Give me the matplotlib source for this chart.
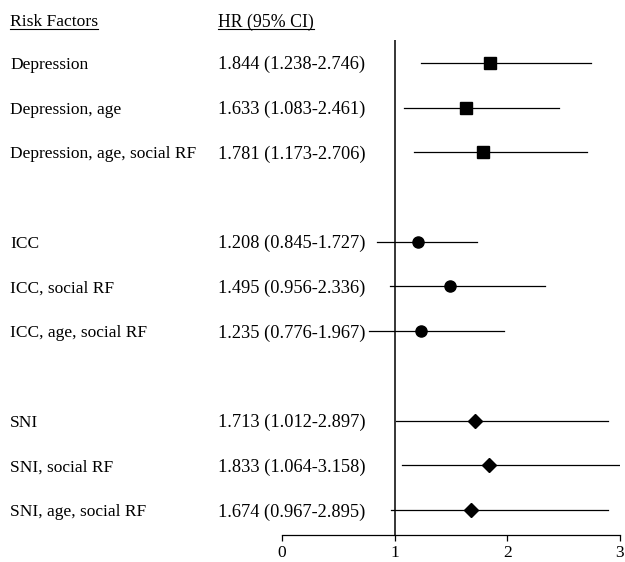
import matplotlib
matplotlib.use("Agg")
import matplotlib.pyplot as plt
from matplotlib.transforms import blended_transform_factory
from matplotlib.lines import Line2D

plt.rcParams['font.family'] = ['Liberation Serif', 'DejaVu Serif']

# data
labels = ["Depression", "Depression, age", "Depression, age, social RF",
          "ICC", "ICC, social RF", "ICC, age, social RF",
          "SNI", "SNI, social RF", "SNI, age, social RF"]
hr = [1.844, 1.633, 1.781, 1.208, 1.495, 1.235, 1.713, 1.833, 1.674]
lo = [1.238, 1.083, 1.173, 0.845, 0.956, 0.776, 1.012, 1.064, 0.967]
hi = [2.746, 2.461, 2.706, 1.727, 2.336, 1.967, 2.897, 3.158, 2.895]
rows = [0, 1, 2, 4, 5, 6, 8, 9, 10]
markers = ["s", "s", "s", "o", "o", "o", "D", "D", "D"]
msizes = [8.5, 8.5, 8.5, 8, 8, 8, 7, 7, 7]

W, H = 625, 562
fig = plt.figure(figsize=(W / 100, H / 100), dpi=100)
ax = fig.add_axes([282 / W, 27 / H, 338 / W, (535 - 40) / H])

for i in range(len(labels)):
    ax.plot([lo[i], hi[i]], [rows[i], rows[i]], color="black", lw=0.9)
    ax.plot(hr[i], rows[i], marker=markers[i], ms=msizes[i], color="black", ls="none")

ax.axvline(1, color="black", lw=1.1)
ax.set_xlim(0, 3)
ax.set_ylim(10.56, -0.51)
ax.set_xticks([0, 1, 2, 3])
ax.set_yticks([])
for s in ["top", "right", "left"]:
    ax.spines[s].set_visible(False)
ax.spines["bottom"].set_linewidth(0.9)
ax.tick_params(axis="x", direction="out", length=4, width=0.9, labelsize=12.5, pad=3)

tr = blended_transform_factory(fig.transFigure, ax.transData)
for i in range(len(labels)):
    ax.text(10 / W, rows[i], labels[i], transform=tr, fontsize=12.5,
            va="center_baseline", ha="left")
    ax.text(218 / W, rows[i], f"{hr[i]:.3f} ({lo[i]:.3f}-{hi[i]:.3f})",
            transform=tr, fontsize=13.2, va="center_baseline", ha="left")

# column headers, underlined
headers = [fig.text(10 / W, 1 - 20 / H, "Risk Factors", fontsize=12.6, va="center_baseline"),
           fig.text(218 / W, 1 - 20 / H, "HR (95% CI)", fontsize=12.8, va="center_baseline")]
fig.canvas.draw()
inv = fig.transFigure.inverted()
for t in headers:
    bb = t.get_window_extent().transformed(inv)
    yline = bb.y0 + 1.5 / H
    fig.add_artist(Line2D([bb.x0, bb.x1], [yline, yline], color="black", lw=0.8,
                          transform=fig.transFigure))

fig.savefig("out.png", dpi=100)
